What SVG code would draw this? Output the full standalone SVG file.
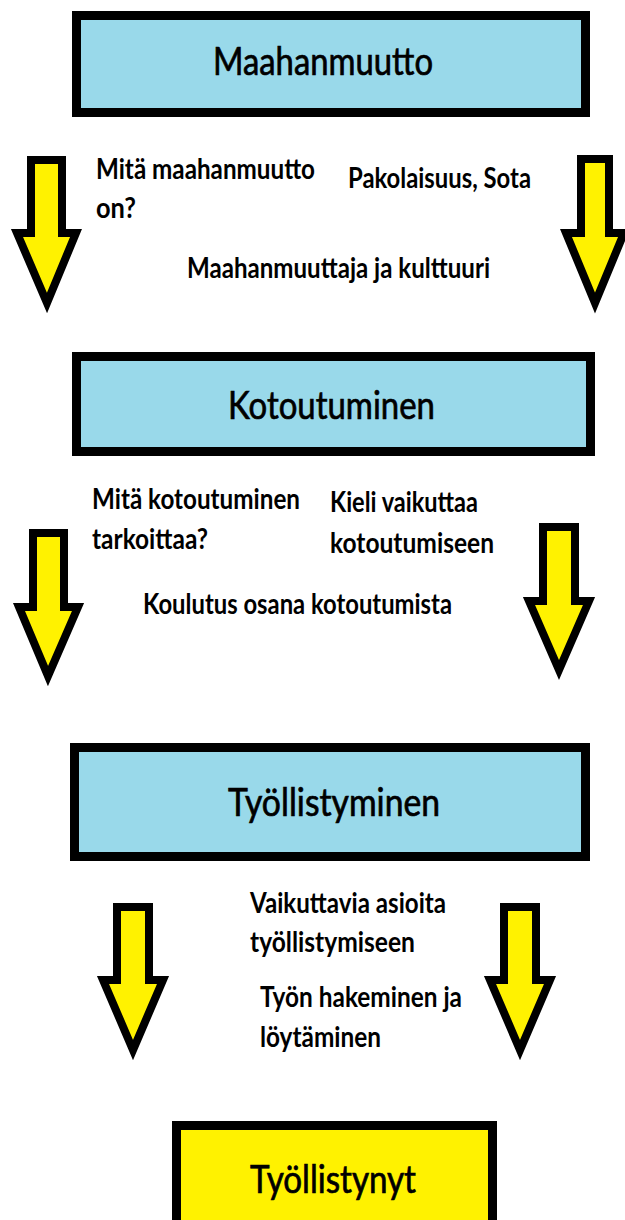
<svg xmlns="http://www.w3.org/2000/svg" width="625" height="1220" viewBox="0 0 625 1220">
<style>
.box{stroke:#000;stroke-width:9;}
.blue{fill:#99D9EA;}
.yel{fill:#FFF200;}
.arrow{fill:#FFF200;stroke:#000;stroke-width:8;stroke-linejoin:miter;}
.title{font-family:Lato,"Liberation Sans",sans-serif;font-size:38px;fill:#000;stroke:#000;stroke-width:0.7px;}
.lbl{font-family:Lato,"Liberation Sans",sans-serif;font-size:28px;font-weight:bold;fill:#000;}
</style>
<rect width="625" height="1220" fill="#fff"/>
<g id="connectors">
<polygon class="arrow" points="31,160 62,160 62,233 76,233 47,303 17,233 31,233"/>
<polygon class="arrow" points="581,159 609,159 609,233 624,233 595,303 566,233 581,233"/>
<polygon class="arrow" points="33,533 64,533 64,607 78,607 48,676 19,607 33,607"/>
<polygon class="arrow" points="543,527 575,527 575,601 589,601 559,670 529,601 543,601"/>
<polygon class="arrow" points="117,907 149,907 149,980 163,980 133,1050 103,980 117,980"/>
<polygon class="arrow" points="504,907 536,907 536,980 550,980 520,1050 490,980 504,980"/>
</g>
<g id="maahanmuutto">
<rect class="box blue" x="76.5" y="15.5" width="509" height="97"/>
<text class="title" x="213" y="75" textLength="220" lengthAdjust="spacingAndGlyphs">Maahanmuutto</text>
</g>
<g id="kotoutuminen">
<rect class="box blue" x="76.5" y="356.5" width="514" height="95"/>
<text class="title" x="228" y="419" textLength="207" lengthAdjust="spacingAndGlyphs">Kotoutuminen</text>
</g>
<g id="tyollistyminen">
<rect class="box blue" x="74.5" y="747.5" width="511" height="109"/>
<text class="title" x="228" y="816" textLength="212" lengthAdjust="spacingAndGlyphs">Työllistyminen</text>
</g>
<g id="tyollistynyt">
<rect class="box yel" x="176.5" y="1125.5" width="316" height="110"/>
<text class="title" x="250" y="1193" textLength="166" lengthAdjust="spacingAndGlyphs">Työllistynyt</text>
</g>
<g id="labels">
<text class="lbl" x="96" y="179" textLength="219" lengthAdjust="spacingAndGlyphs">Mitä maahanmuutto</text>
<text class="lbl" x="96" y="218" textLength="40" lengthAdjust="spacingAndGlyphs">on?</text>
<text class="lbl" x="348" y="188" textLength="183" lengthAdjust="spacingAndGlyphs">Pakolaisuus, Sota</text>
<text class="lbl" x="187" y="278" textLength="303" lengthAdjust="spacingAndGlyphs">Maahanmuuttaja ja kulttuuri</text>
<text class="lbl" x="92" y="509" textLength="208" lengthAdjust="spacingAndGlyphs">Mitä kotoutuminen</text>
<text class="lbl" x="92" y="549" textLength="116" lengthAdjust="spacingAndGlyphs">tarkoittaa?</text>
<text class="lbl" x="330" y="512" textLength="148" lengthAdjust="spacingAndGlyphs">Kieli vaikuttaa</text>
<text class="lbl" x="330" y="553" textLength="164" lengthAdjust="spacingAndGlyphs">kotoutumiseen</text>
<text class="lbl" x="143" y="614" textLength="309" lengthAdjust="spacingAndGlyphs">Koulutus osana kotoutumista</text>
<text class="lbl" x="250" y="913" textLength="196" lengthAdjust="spacingAndGlyphs">Vaikuttavia asioita</text>
<text class="lbl" x="250" y="952" textLength="165" lengthAdjust="spacingAndGlyphs">työllistymiseen</text>
<text class="lbl" x="260" y="1007" textLength="202" lengthAdjust="spacingAndGlyphs">Työn hakeminen ja</text>
<text class="lbl" x="260" y="1047" textLength="121" lengthAdjust="spacingAndGlyphs">löytäminen</text>
</g>
</svg>
